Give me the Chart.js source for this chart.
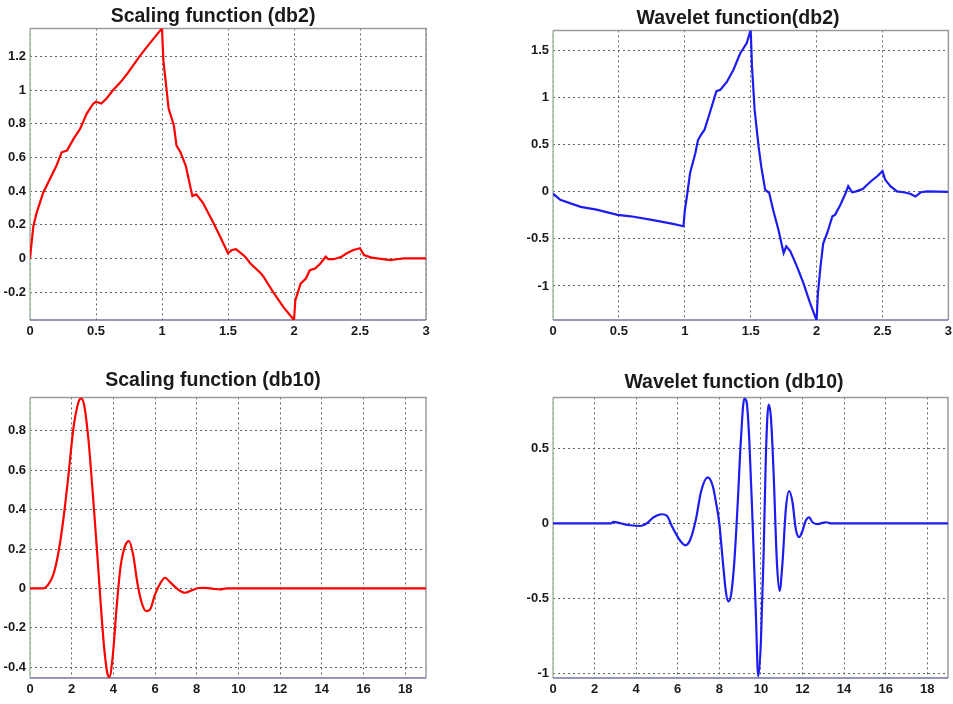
<!DOCTYPE html>
<html><head><meta charset="utf-8">
<script src="https://cdn.jsdelivr.net/npm/chart.js@4/dist/chart.umd.min.js"></script>
<style>
html,body{margin:0;padding:0;background:#fff;width:953px;height:704px;overflow:hidden;position:relative;}
.box{position:absolute;}
</style></head><body>
<div class="box" style="left:0px;top:0px;width:440px;height:345px"><canvas id="c1"></canvas></div>
<div class="box" style="left:520px;top:0px;width:436px;height:345px"><canvas id="c2"></canvas></div>
<div class="box" style="left:0px;top:350px;width:440px;height:354px"><canvas id="c3"></canvas></div>
<div class="box" style="left:520px;top:350px;width:433px;height:354px"><canvas id="c4"></canvas></div>
<script>
// ---- data ----
const db2ScalingX = [0,0.025,0.05,0.1,0.15,0.2,0.24,0.28,0.33,0.38,0.43,0.48,0.5,0.54,0.58,0.63,0.69,0.74,0.83,0.91,1.0,1.01,1.05,1.09,1.11,1.14,1.18,1.23,1.26,1.31,1.39,1.44,1.5,1.53,1.56,1.6,1.63,1.67,1.75,1.77,1.85,1.92,2.0,2.01,2.05,2.09,2.12,2.16,2.2,2.24,2.26,2.3,2.36,2.4,2.45,2.5,2.53,2.58,2.63,2.73,2.78,2.83,3.0];
const db2ScalingY = [0,0.19,0.27,0.39,0.47,0.55,0.63,0.64,0.71,0.77,0.86,0.92,0.93,0.92,0.95,1.0,1.05,1.1,1.2,1.28,1.366,1.18,0.89,0.79,0.67,0.63,0.55,0.37,0.38,0.33,0.21,0.13,0.03,0.05,0.055,0.03,0.01,-0.03,-0.09,-0.11,-0.21,-0.29,-0.366,-0.25,-0.15,-0.12,-0.07,-0.06,-0.03,0.01,-0.005,-0.005,0.01,0.03,0.05,0.06,0.02,0.006,0,-0.01,-0.005,0,0];

const db2WaveletX = [0,0.055,0.21,0.33,0.49,0.59,0.76,0.91,0.99,1.0,1.02,1.04,1.08,1.1,1.13,1.15,1.19,1.24,1.27,1.32,1.37,1.42,1.47,1.5,1.51,1.53,1.56,1.58,1.61,1.64,1.67,1.71,1.75,1.77,1.8,1.85,1.9,1.95,2.0,2.01,2.03,2.05,2.08,2.12,2.14,2.18,2.22,2.24,2.27,2.3,2.35,2.41,2.46,2.5,2.52,2.56,2.61,2.66,2.71,2.75,2.79,2.84,3.0];
const db2WaveletY = [-0.02,-0.085,-0.16,-0.19,-0.245,-0.26,-0.3,-0.34,-0.366,-0.2,-0.01,0.2,0.41,0.55,0.62,0.66,0.84,1.07,1.085,1.17,1.3,1.47,1.58,1.72,1.33,0.87,0.48,0.27,0.02,-0.01,-0.19,-0.4,-0.65,-0.58,-0.63,-0.79,-0.97,-1.18,-1.366,-1.08,-0.79,-0.55,-0.44,-0.26,-0.245,-0.14,-0.015,0.06,-0.005,0.005,0.03,0.11,0.165,0.22,0.13,0.06,0.005,-0.005,-0.02,-0.05,-0.005,0.005,0];

const db10ScalingX = [0,0.64,0.88,1.12,1.36,1.6,1.84,2.08,2.32,2.45,2.59,2.8,3.0,3.2,3.39,3.55,3.71,3.81,3.97,4.16,4.35,4.56,4.75,4.96,5.15,5.36,5.57,5.76,6.0,6.27,6.48,6.72,7.04,7.44,7.76,8.08,8.4,8.8,9.12,9.44,19];
const db10ScalingY = [0,0,0.02,0.07,0.18,0.35,0.57,0.81,0.944,0.965,0.935,0.76,0.5,0.215,-0.073,-0.293,-0.43,-0.45,-0.344,-0.09,0.114,0.215,0.24,0.164,0.029,-0.073,-0.115,-0.107,-0.03,0.029,0.054,0.032,0,-0.022,-0.01,0.002,0.003,-0.002,-0.005,0,0];

const db10WaveletX = [0,2.8,2.91,3.24,3.72,4.2,4.52,4.84,5.24,5.48,5.72,6.04,6.2,6.36,6.6,6.88,7.12,7.44,7.68,7.84,8.0,8.16,8.32,8.43,8.56,8.72,8.88,9.04,9.2,9.31,9.44,9.6,9.76,9.87,10.0,10.13,10.24,10.37,10.48,10.61,10.77,10.9,11.04,11.2,11.36,11.52,11.68,11.84,12.0,12.16,12.32,12.48,12.72,13.12,13.36,19];
const db10WaveletY = [0,0,0.01,0,-0.013,-0.018,0,0.04,0.06,0.05,-0.02,-0.1,-0.13,-0.147,-0.11,0.03,0.21,0.305,0.25,0.14,0,-0.24,-0.46,-0.52,-0.48,-0.26,0.12,0.56,0.83,0.81,0.56,0.007,-0.61,-1.02,-0.79,-0.21,0.45,0.79,0.71,0.34,-0.26,-0.45,-0.26,0.095,0.215,0.14,-0.04,-0.093,-0.05,0.018,0.04,0.007,-0.005,0.007,0,0];

const titles = ["Scaling function (db2)", "Wavelet function(db2)", "Scaling function (db10)", "Wavelet function (db10)"];
const db2XRange = [0, 3];
const db10XRange = [0, 19];
const db2XStep = 0.5, db10XStep = 2;
const yRange1 = [-0.366, 1.366], yStep1 = 0.2;
const yRange2 = [-1.362, 1.715], yStep2 = 0.5;
const yRange3 = [-0.455, 0.97], yStep3 = 0.2;
const yRange4 = [-1.03, 0.838], yStep4 = 0.5;

// ---- rendering ----
const FONT = "'Liberation Sans Narrow', 'Liberation Sans', Arial, sans-serif";
const framePlugin = {
  id: 'frame',
  beforeDatasetsDraw(chart) {
    const a = chart.chartArea, c = chart.ctx;
    c.save();
    c.lineWidth = 1.5;
    c.strokeStyle = '#9a9a9a';
    c.beginPath(); c.moveTo(a.left, a.top); c.lineTo(a.right, a.top); c.lineTo(a.right, a.bottom); c.stroke();
    c.strokeStyle = '#a8bca8';
    c.beginPath(); c.moveTo(a.left, a.top); c.lineTo(a.left, a.bottom); c.stroke();
    c.strokeStyle = '#7474a8';
    c.beginPath(); c.moveTo(a.left, a.bottom); c.lineTo(a.right, a.bottom); c.stroke();
    c.restore();
  }
};

function pts(xs, ys) { return xs.map((x, i) => ({x: x, y: ys[i]})); }
function fmt(v) { return String(Number(v.toFixed(3))); }

function makeChart(id, title, xs, ys, color, smooth, xr, xStep, yr, yStep, L) {
  return new Chart(document.getElementById(id), {
    type: 'line',
    data: { datasets: [{
      data: pts(xs, ys), borderColor: color, borderWidth: 2.2, pointRadius: 0,
      tension: smooth ? 0.4 : 0, cubicInterpolationMode: smooth ? 'monotone' : 'default', fill: false
    }]},
    options: {
      responsive: true, maintainAspectRatio: false, animation: false,
      layout: { padding: { right: L.padRight, left: 0, top: 0, bottom: 0 } },
      plugins: {
        legend: { display: false }, tooltip: { enabled: false },
        title: { display: true, text: title, color: '#1a1a1a',
          font: { family: FONT, size: 19.5, weight: 'bold', lineHeight: 1.2 },
          padding: { top: L.titleTop, bottom: L.titleBottom } }
      },
      scales: {
        x: { type: 'linear', min: xr[0], max: xr[1],
          afterFit(s) { s.height = L.xH; },
          ticks: { stepSize: xStep, includeBounds: false, padding: 4, maxRotation: 0, autoSkip: false,
            callback: fmt,
            color: '#1a1a1a', font: { family: FONT, size: 13, weight: 'bold' } },
          grid: { color: '#5a6a5a', lineWidth: 1, drawTicks: false },
          border: { display: false, dash: [2, 3] } },
        y: { type: 'linear', min: yr[0], max: yr[1],
          afterFit(s) { s.width = L.yW; },
          ticks: { stepSize: yStep, includeBounds: false, padding: 4, autoSkip: false,
            callback: fmt,
            color: '#1a1a1a', font: { family: FONT, size: 13, weight: 'bold' } },
          grid: { color: '#5a6a5a', lineWidth: 1, drawTicks: false },
          border: { display: false, dash: [2, 3] } }
      }
    },
    plugins: [framePlugin]
  });
}

makeChart('c1', titles[0], db2ScalingX, db2ScalingY, '#ff0000', false, db2XRange, db2XStep, yRange1, yStep1,
  { padRight: 14, titleTop: 5, titleBottom: 0, xH: 25, yW: 30 });
makeChart('c2', titles[1], db2WaveletX, db2WaveletY, '#1c1cf0', false, db2XRange, db2XStep, yRange2, yStep2,
  { padRight: 0, titleTop: 7, titleBottom: 0, xH: 25, yW: 33 });
makeChart('c3', titles[2], db10ScalingX, db10ScalingY, '#ff0000', true, db10XRange, db10XStep, yRange3, yStep3,
  { padRight: 14, titleTop: 19, titleBottom: 5, xH: 26, yW: 30 });
makeChart('c4', titles[3], db10WaveletX, db10WaveletY, '#1c1cf0', true, db10XRange, db10XStep, yRange4, yStep4,
  { padRight: 5, titleTop: 21, titleBottom: 3, xH: 26, yW: 33 });
</script>
</body></html>
